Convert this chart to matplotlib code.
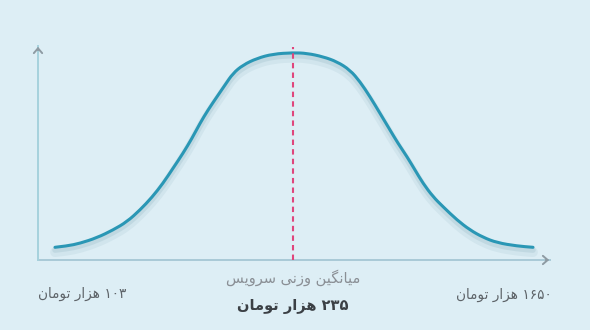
import matplotlib
matplotlib.use("Agg")
import matplotlib.pyplot as plt
import matplotlib.patheffects as pe
from matplotlib.path import Path
from matplotlib.patches import PathPatch

# Data (curve, axis units ~ pixels from origin)
curve_x = [17, 29, 42, 59, 75, 89, 102, 114, 125, 135, 145, 154, 162, 170, 179, 187,
           195, 205, 219, 235, 255, 269, 285, 299, 312, 322, 332, 342, 352, 360, 369,
           377, 385, 395, 405, 419, 432, 445, 459, 479, 495]
curve_y = [12.7, 14, 16.7, 22.3, 30, 38.3, 50, 62.7, 76.7, 91.7, 106.7, 121.7, 136.7,
           150, 163.3, 175, 186.7, 195, 201.7, 206, 207.3, 206.7, 203.3, 198.3, 190,
           178.3, 163.3, 146.7, 130, 116.7, 103.3, 90, 76.7, 63.3, 53.3, 40, 30, 22.7,
           17.3, 14, 12.7]
mean_x = 255
mean_label = "میانگین وزنی سرویس"
mean_value = "۲۳۵ هزار تومان"
min_label = "۱۰۳ هزار تومان"
max_label = "۱۶۵۰ هزار تومان"

# minimal Persian shaping (presentation forms) since matplotlib has no bidi
FORMS = {
    'ا': ('\uFE8D', '\uFE8E', None, None),
    'ر': ('\uFEAD', '\uFEAE', None, None),
    'ز': ('\uFEAF', '\uFEB0', None, None),
    'و': ('\uFEED', '\uFEEE', None, None),
    'ن': ('\uFEE5', '\uFEE6', '\uFEE7', '\uFEE8'),
    'م': ('\uFEE1', '\uFEE2', '\uFEE3', '\uFEE4'),
    'ی': ('\uFBFC', '\uFBFD', '\uFBFE', '\uFBFF'),
    'گ': ('\uFB92', '\uFB93', '\uFB94', '\uFB95'),
    'س': ('\uFEB1', '\uFEB2', '\uFEB3', '\uFEB4'),
    'ه': ('\uFEE9', '\uFEEA', '\uFEEB', '\uFEEC'),
    'ت': ('\uFE95', '\uFE96', '\uFE97', '\uFE98'),
}


def shape_word(w):
    out = []
    for i, ch in enumerate(w):
        if ch not in FORMS:
            out.append(ch)
            continue
        prev = w[i - 1] if i > 0 else None
        nxt = w[i + 1] if i < len(w) - 1 else None
        iso, fin, ini, med = FORMS[ch]
        join_prev = prev in FORMS and FORMS[prev][2] is not None
        join_next = ini is not None and nxt in FORMS
        if join_prev and join_next:
            out.append(med)
        elif join_prev:
            out.append(fin)
        elif join_next:
            out.append(ini)
        else:
            out.append(iso)
    return ''.join(reversed(out))


def rtl(text):
    words = text.split(' ')
    vis = [w if all(c in '۰۱۲۳۴۵۶۷۸۹' for c in w) else shape_word(w) for w in words]
    return ' '.join(reversed(vis))


bg = '#ddeef5'
plt.rcParams['font.family'] = ['DejaVu Sans']
fig = plt.figure(figsize=(5.9, 3.3), dpi=100, facecolor=bg)
ax = fig.add_axes([38 / 590, 70 / 330, 514 / 590, 216 / 330])
ax.set_facecolor(bg)
ax.set_xlim(0, 514)
ax.set_ylim(0, 216)
for s in ax.spines.values():
    s.set_visible(False)
ax.set_xticks([])
ax.set_yticks([])

# axes with chevron heads
ax.plot([0, 512], [0, 0], color='#a9cad7', lw=1.4, clip_on=False)
ax.plot([0, 0], [0, 214], color='#a6d2dd', lw=1.4, clip_on=False)
ax.annotate('', xy=(514, 0), xytext=(505, 0), clip_on=False,
            arrowprops=dict(arrowstyle='->,head_length=0.35,head_width=0.3', color='#8e9ba3', lw=1.4))
ax.annotate('', xy=(0, 216), xytext=(0, 207), clip_on=False,
            arrowprops=dict(arrowstyle='->,head_length=0.35,head_width=0.3', color='#8e9ba3', lw=1.4))

# smooth curve: read points used as quadratic bezier controls
pts = list(zip(curve_x, curve_y))
verts = [pts[0]]
codes = [Path.MOVETO]
for i in range(1, len(pts) - 1):
    mid = ((pts[i][0] + pts[i + 1][0]) / 2, (pts[i][1] + pts[i + 1][1]) / 2)
    verts += [pts[i], mid]
    codes += [Path.CURVE3, Path.CURVE3]
verts.append(pts[-1])
codes.append(Path.LINETO)

shadow = [pe.SimpleLineShadow(offset=(0, -3.5), shadow_color='#8fb3c0', alpha=0.15, linewidth=7),
          pe.SimpleLineShadow(offset=(0, -2), shadow_color='#8fb3c0', alpha=0.25, linewidth=4),
          pe.Normal()]
curve = PathPatch(Path(verts, codes), facecolor='none', edgecolor='#2a97b5', lw=2.2,
                  capstyle='round', joinstyle='round', path_effects=shadow, zorder=3)
ax.add_patch(curve)

# weighted mean line
ax.plot([mean_x, mean_x], [0, 213], color='#e0467c', lw=1.5,
        linestyle=(0, (2.6, 2.0)), zorder=4, clip_on=False)

ax.text(mean_x, -18, rtl(mean_label), ha='center', va='center', fontsize=10.5,
        color='#8a8f95', clip_on=False)
ax.text(mean_x, -47, rtl(mean_value), ha='center', va='center', fontsize=10.5,
        fontweight='bold', color='#3b4045', clip_on=False)
ax.text(0, -34, rtl(min_label), ha='left', va='center', fontsize=9.8,
        color='#5e6469', clip_on=False)
ax.text(514, -35, rtl(max_label), ha='right', va='center', fontsize=9.8,
        color='#5e6469', clip_on=False)

fig.savefig('out.png', dpi=100, facecolor=bg)
